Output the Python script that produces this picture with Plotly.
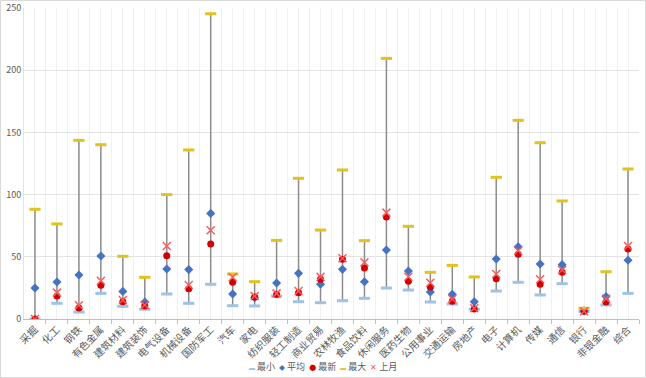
import plotly.graph_objects as go

categories = ["采掘", "化工", "钢铁", "有色金属", "建筑材料", "建筑装饰", "电气设备", "机械设备",
              "国防军工", "汽车", "家电", "纺织服装", "轻工制造", "商业贸易", "农林牧渔", "食品饮料",
              "休闲服务", "医药生物", "公用事业", "交通运输", "房地产", "电子", "计算机", "传媒",
              "通信", "银行", "非银金融", "综合"]

series_names = ["最小", "平均", "最新", "最大", "上月"]

min_vals = [0.0, 12.6, 5.6, 20.6, 10.2, 7.8, 20.1, 12.6, 27.9, 10.7, 10.5, 18.5, 13.9, 13.1,
            14.7, 16.6, 24.9, 23.3, 13.7, 12.1, 7.8, 22.5, 29.5, 19.3, 28.4, 6.0, 11.3, 20.6]
avg_vals = [24.9, 29.7, 35.4, 50.6, 22.2, 13.7, 40.2, 39.7, 84.9, 20.1, 17.1, 28.9, 36.7, 27.9,
            39.9, 30.0, 55.5, 38.6, 21.7, 19.8, 13.9, 48.2, 58.1, 44.2, 43.7, 6.5, 18.0, 47.2]
latest_vals = [0.0, 18.5, 8.8, 27.1, 13.9, 10.5, 50.9, 24.4, 60.3, 29.5, 17.7, 19.6, 21.2, 31.9,
               48.0, 41.0, 82.0, 30.3, 25.7, 14.2, 8.0, 32.4, 52.0, 27.9, 37.5, 6.2, 13.7, 56.3]
max_vals = [88.2, 76.4, 143.6, 140.1, 50.4, 33.5, 100.0, 135.9, 245.4, 36.2, 30.0, 63.2, 113.1,
            71.5, 119.8, 63.0, 209.5, 74.5, 37.5, 43.1, 33.8, 113.9, 159.7, 141.7, 94.9, 8.6,
            38.0, 120.6]
last_month_vals = [0.0, 21.2, 11.0, 30.8, 15.3, 11.3, 58.7, 27.3, 71.3, 33.5, 18.5, 20.6, 22.5,
                   34.0, 48.8, 45.6, 85.5, 34.0, 29.2, 16.1, 8.6, 36.2, 54.9, 31.9, 39.4, 6.2,
                   16.3, 58.7]
y_ticks = [0, 50, 100, 150, 200, 250]

xs = list(range(len(categories)))
font_family = "Noto Sans CJK SC, Microsoft YaHei, sans-serif"

C_MIN, C_AVG, C_LATEST, C_MAX, C_LAST = "#9DC3E6", "#4472C4", "#D00000", "#E2C21B", "#FF5A5A"

fig = go.Figure()

# range lines (min to max) as error bars
fig.add_trace(go.Scatter(
    x=xs, y=max_vals, mode="markers", showlegend=False, hoverinfo="skip",
    marker=dict(size=1, opacity=0),
    error_y=dict(type="data", symmetric=False,
                 array=[0] * len(xs),
                 arrayminus=[mx - mn for mx, mn in zip(max_vals, min_vals)],
                 color="#8C8C8C", thickness=1.5, width=0),
))

fig.add_trace(go.Scatter(
    x=xs, y=min_vals, mode="markers", name=series_names[0], showlegend=False,
    marker=dict(symbol="line-ew", size=8, line=dict(color=C_MIN, width=3)),
))
fig.add_trace(go.Scatter(
    x=xs, y=avg_vals, mode="markers", name=series_names[1], showlegend=False,
    marker=dict(symbol="diamond", size=7, color=C_AVG),
))
fig.add_trace(go.Scatter(
    x=xs, y=latest_vals, mode="markers", name=series_names[2], showlegend=False,
    marker=dict(symbol="circle", size=7, color=C_LATEST),
))
fig.add_trace(go.Scatter(
    x=xs, y=max_vals, mode="markers", name=series_names[3], showlegend=False,
    marker=dict(symbol="line-ew", size=8, line=dict(color=C_MAX, width=3)),
))
fig.add_trace(go.Scatter(
    x=xs, y=last_month_vals, mode="markers", name=series_names[4], showlegend=False,
    marker=dict(symbol="x-thin", size=8, line=dict(color=C_LAST, width=1.5)),
))

W, H = 646, 378
ml, mr, mt, mb = 24, 7, 8, 59
pw, ph = W - ml - mr, H - mt - mb

# compact legend (Excel style)
NB = "\u00a0"
glyphs = [("▬", C_MIN, 6), ("◆", C_AVG, 6), ("●", C_LATEST, 7), ("▬", C_MAX, 6), ("✕", C_LAST, 8)]
legend_parts = []
for (g, c, s), name in zip(glyphs, series_names):
    legend_parts.append(f"<span style='color:{c};font-size:{s}px'>{g}</span>{NB}{name}")
legend_text = (NB * 2).join(legend_parts)

fig.update_layout(
    width=W, height=H,
    margin=dict(l=ml, r=mr, t=mt, b=mb, autoexpand=False),
    paper_bgcolor="white", plot_bgcolor="white",
    font=dict(family=font_family, size=10, color="#595959"),
    showlegend=False,
    annotations=[dict(text=legend_text, xref="paper", yref="paper",
                      x=(323 - ml) / pw, y=(mt + ph - 366) / ph,
                      xanchor="center", yanchor="middle", showarrow=False,
                      font=dict(size=9, color="#595959"))],
    shapes=[dict(type="rect", xref="paper", yref="paper",
                 x0=-(ml - 0.5) / pw, x1=1 + (mr - 0.5) / pw,
                 y0=-(mb - 0.5) / ph, y1=1 + (mt - 0.5) / ph,
                 line=dict(color="#D9D9D9", width=1), layer="below")],
)

fig.update_xaxes(
    range=[-0.5, len(categories) - 0.5], automargin=False,
    tickvals=xs, ticktext=categories, tickangle=-45,
    tickfont=dict(size=10, color="#595959"),
    showgrid=True, gridcolor="#F0F0F0", gridwidth=1,
    ticks="", showline=True, linecolor="#BFBFBF", linewidth=1,
    minor=dict(tickvals=[i + 0.5 for i in xs], showgrid=True, gridcolor="#F0F0F0",
               ticks="outside", ticklen=4, tickcolor="#BFBFBF"),
    zeroline=False, fixedrange=True,
)
fig.update_yaxes(
    range=[0, 250], tickvals=y_ticks, automargin=False,
    tickfont=dict(size=9, color="#595959"),
    showgrid=True, gridcolor="#E3E3E3", gridwidth=1,
    showline=True, linecolor="#E3E3E3", zeroline=False, ticks="",
    fixedrange=True,
)

fig.write_html("out.html", config={"displayModeBar": False},
               post_script="document.body.style.margin='0';document.body.style.overflow='hidden';")
